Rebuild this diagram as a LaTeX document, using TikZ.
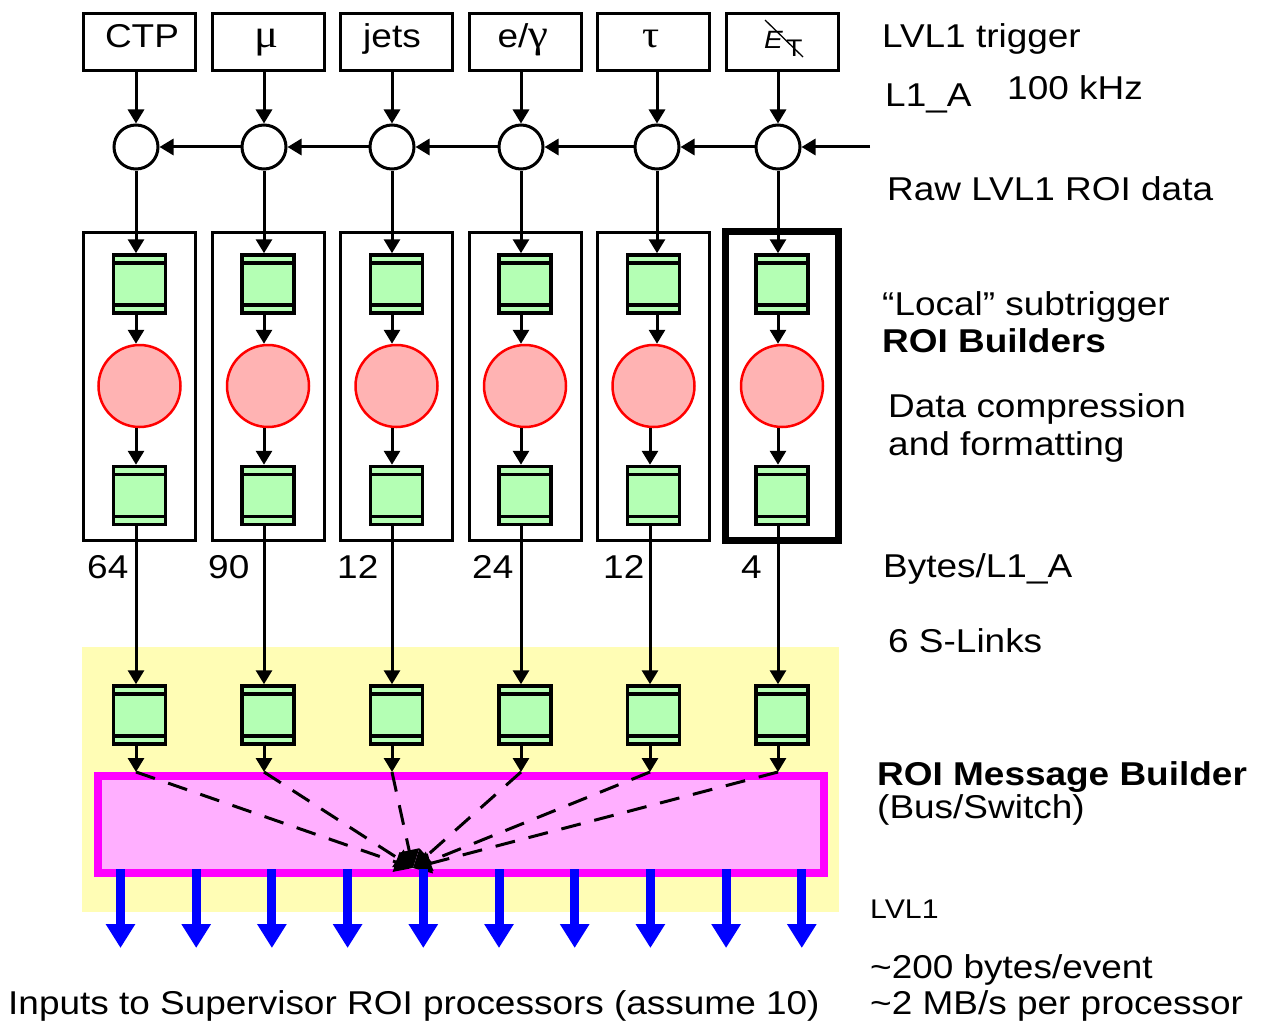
\documentclass[tikz,border=0pt]{standalone}
\usepackage{fontspec}
\setmainfont{Liberation Sans}[FakeStretch=1.12]
\newfontfamily\grk{Liberation Serif}[FakeStretch=1.12]
\usetikzlibrary{arrows.meta,calc}
\definecolor{gfill}{RGB}{180,255,180}
\definecolor{rfill}{RGB}{255,179,179}
\definecolor{yfill}{RGB}{255,253,181}
\definecolor{pfill}{RGB}{255,175,255}
\definecolor{mag}{RGB}{255,0,255}
\begin{document}
\begin{tikzpicture}[x=1pt,y=-1pt,
 txt/.style={inner sep=0pt, anchor=base west, font=\fontsize{33}{38}\selectfont},
 ctxt/.style={inner sep=0pt, anchor=base, font=\fontsize{33}{38}\selectfont},
 arr/.style={line width=3pt, -{Triangle[length=14pt,width=16pt]}},
 dsh/.style={line width=3pt, dash pattern=on 20pt off 14pt, -{Triangle[length=18pt,width=20pt]}},
 topbox/.style={draw, line width=3pt, minimum width=112pt, minimum height=57pt, inner sep=0pt},
 tallbox/.style={draw, line width=3pt, minimum width=112pt, minimum height=308pt, inner sep=0pt},
 junc/.style={circle, draw, line width=3pt, fill=white, minimum size=44pt, inner sep=0pt},
 proc/.style={circle, draw=red, line width=2.5pt, fill=rfill, minimum size=82pt, inner sep=0pt},
 fifo/.style={draw, line width=3.5pt, fill=gfill, minimum width=52pt, minimum height=58pt, inner sep=0pt,
   path picture={\draw[line width=3.5pt] ([yshift=-8pt]path picture bounding box.north west) -- ([yshift=-8pt]path picture bounding box.north east);
                 \draw[line width=3.5pt] ([yshift=8pt]path picture bounding box.south west) -- ([yshift=8pt]path picture bounding box.south east);}},
 bluearr/.style={blue, line width=9pt, -{Triangle[length=24pt,width=28pt]}},
]
\fill[white] (0,0) rectangle (1261,1022);
\useasboundingbox (0,0) rectangle (1261,1022);

% yellow background and bus
\fill[yfill] (82,647) rectangle (839,912);
\node[draw=mag, line width=8pt, fill=pfill, minimum width=726pt, minimum height=97pt, inner sep=0pt] (pink) at (461,824.5) {};
\coordinate (hub) at (413,868);

% columns
\foreach \i/\xa/\xb/\xs in {1/136/136/139.5, 2/264/264/268, 3/392/392/396.5, 4/521/521/525, 5/657/650/653.5, 6/778/778/782}{
  \coordinate (xa\i) at (\xa,0);
  \coordinate (xb\i) at (\xb,0);
  \node[topbox] (top\i) at (\xs,42) {};
  \node[junc] (c\i) at (\xa,147) {};
  \node[fifo] (fa\i) at (\xs,284) {};
  \node[proc] (r\i) at (\xs,386) {};
  \node[fifo] (fb\i) at (\xs,495.5) {};
  \node[fifo] (fs\i) at (\xs,715) {};
}
\foreach \i/\xs in {1/139.5, 2/268, 3/396.5, 4/525, 5/653.5}{
  \node[tallbox] (tall\i) at (\xs,386) {};
}
\node[draw, line width=7pt, minimum width=113.5pt, minimum height=309pt, inner sep=0pt] (tall6) at (782,385.5) {};

\foreach \i in {1,...,6}{
  \draw[arr] (top\i.south -| xa\i) -- (c\i);
  \draw[arr] (c\i) -- (fa\i.north -| xa\i);
  \draw[arr] (fa\i.south -| xa\i) -- (r\i.north -| xa\i);
  \draw[arr] (r\i.south -| xb\i) -- (fb\i.north -| xb\i);
  \draw[arr] (fb\i.south -| xb\i) -- (fs\i.north -| xb\i);
  \draw[arr] (fs\i.south -| xb\i) -- (pink.north -| xb\i);
  \draw[dsh] (pink.north -| xb\i) -- (hub);
}

% raw LVL1 ROI data chain
\coordinate (rin) at (870,147);
\draw[arr] (rin) -- (c6);
\draw[arr] (c6) -- (c5);
\draw[arr] (c5) -- (c4);
\draw[arr] (c4) -- (c3);
\draw[arr] (c3) -- (c2);
\draw[arr] (c2) -- (c1);

% output arrows
\foreach \k in {0,...,9}{
  \pgfmathsetmacro\bx{120.5+75.7*\k}
  \coordinate (bend\k) at (\bx,948);
  \draw[bluearr] ($(pink.south -| bend\k)+(0,-8)$) -- (bend\k);
}

% top box labels
\node[ctxt] (tctp) at (142,48) {CTP};
\node[ctxt] (tmu) at (267,48) {{\grk\fontsize{40}{42}\selectfont μ}};
\node[ctxt] (tjets) at (392,48) {jets};
\node[ctxt] (teg) at (523,48) {e/{\grk\fontsize{40}{42}\selectfont γ}};
\node[ctxt] (ttau) at (651,48) {{\grk\fontsize{38}{42}\selectfont τ}};
\node[inner sep=0pt, anchor=base west, font=\fontsize{25}{25}\selectfont] (tetE) at (764,49) {\textit{E}};
\node[inner sep=0pt, anchor=base west, font=\fontsize{24}{24}\selectfont] (tetT) at (786,57) {T};
\draw[line width=1.3pt] (765,20) -- (803,57);

% byte counts
\node[txt] (n1) at (87,578) {64};
\node[txt] (n2) at (208,578) {90};
\node[txt] (n3) at (337,578) {12};
\node[txt] (n4) at (472,578) {24};
\node[txt] (n5) at (603,578) {12};
\node[txt] (n6) at (741,578) {4};

% right-hand annotations
\node[txt] (a1) at (882,48) {LVL1 trigger};
\node[txt] (a2) at (885,107) {L1\_A};
\node[txt] (a3) at (1007,100) {100 kHz};
\node[txt] (a4) at (887,200) {Raw LVL1 ROI data};
\node[txt] (a5) at (882,315) {“Local” subtrigger};
\node[txt] (a6) at (882,352) {\textbf{ROI Builders}};
\node[txt] (a7) at (888,417) {Data compression};
\node[txt] (a8) at (888,455) {and formatting};
\node[txt] (a9) at (883,577) {Bytes/L1\_A};
\node[txt] (a10) at (888,652) {6 S-Links};
\node[txt] (a11) at (877,785) {\textbf{ROI Message Builder}};
\node[txt] (a12) at (877,818) {(Bus/Switch)};
\node[txt, font=\fontsize{27}{30}\selectfont] (a13) at (870,918) {LVL1};
\node[txt] (a14) at (870,978) {\textasciitilde200 bytes/event};
\node[txt] (a15) at (870,1014) {\textasciitilde2 MB/s per processor};
\node[txt] (a16) at (8,1014) {Inputs to Supervisor ROI processors (assume 10)};
\end{tikzpicture}
\end{document}
